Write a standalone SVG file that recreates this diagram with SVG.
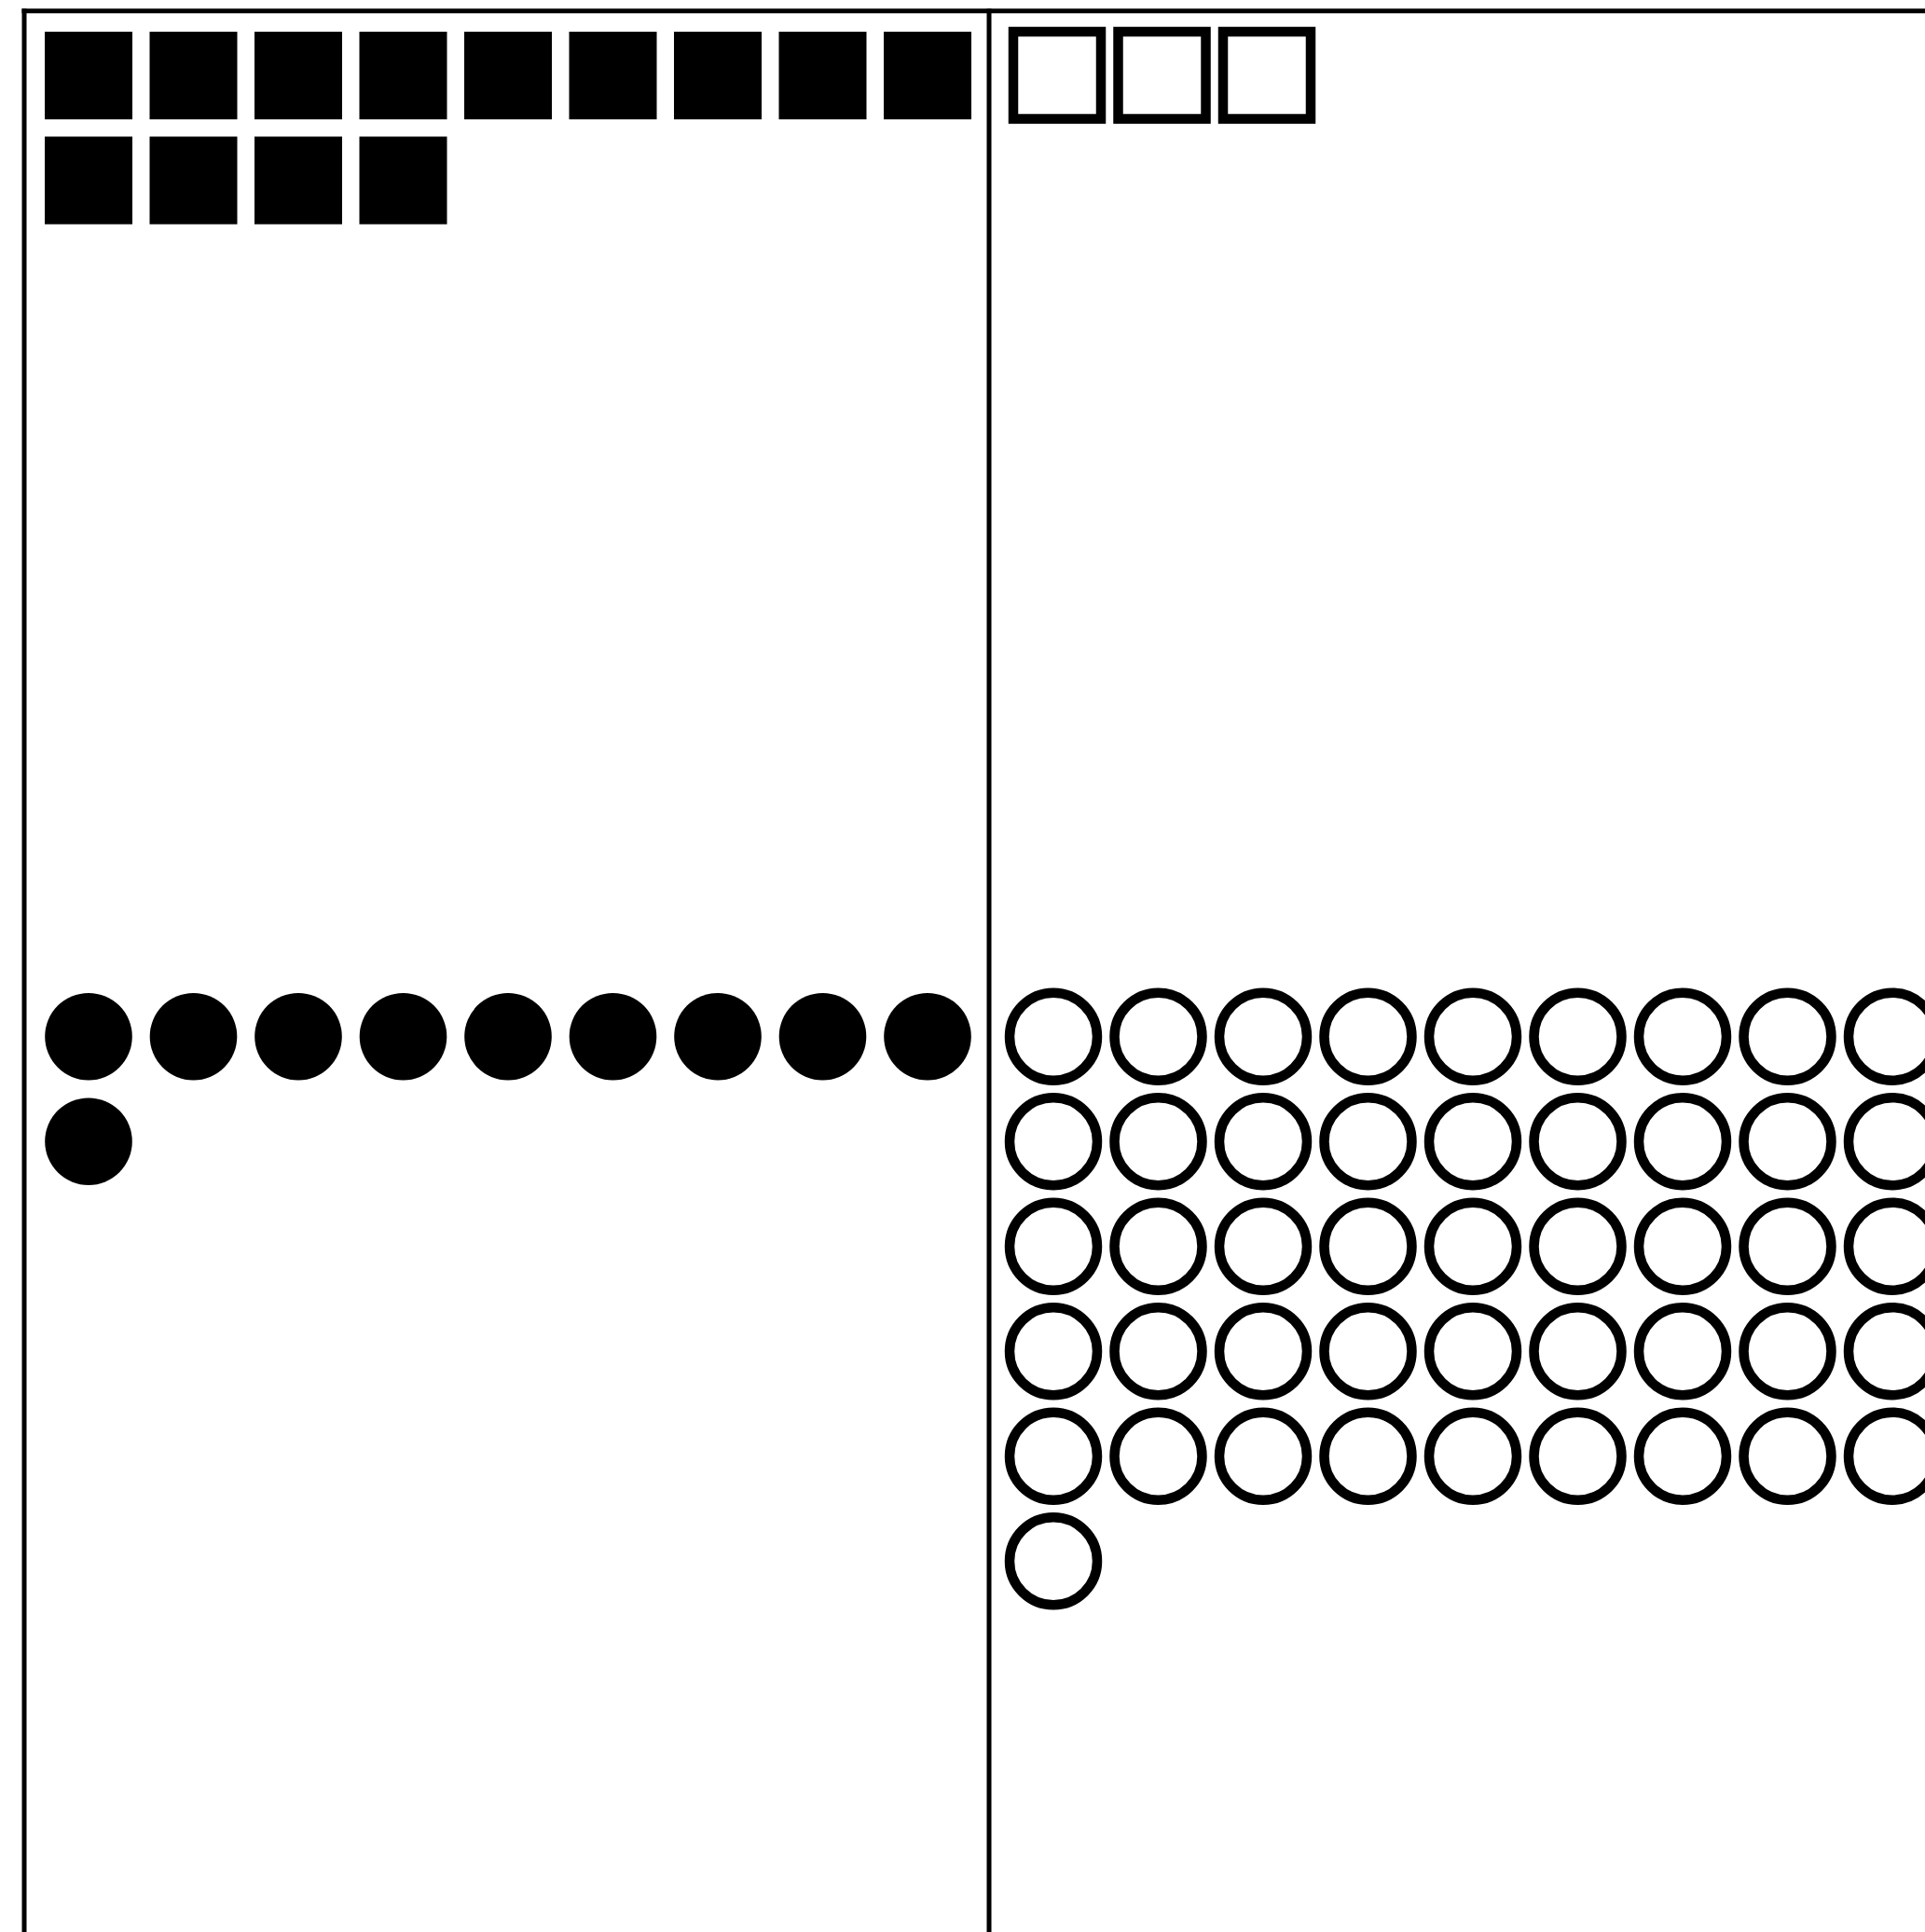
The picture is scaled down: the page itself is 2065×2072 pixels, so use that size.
<svg xmlns="http://www.w3.org/2000/svg" width="2065" height="2072" viewBox="0 0 2065 2072">
<style>
.frame{stroke:#000;stroke-width:5;fill:none}
.fsq{fill:#000}
.osq{fill:none;stroke:#000;stroke-width:10.5}
.fci{fill:#000}
.oci{fill:none;stroke:#000;stroke-width:10.5}
</style>
<rect width="2065" height="2072" fill="#fff"/>
<g id="frame">
<line class="frame" x1="23.5" y1="11.7" x2="2065" y2="11.7"/>
<line class="frame" x1="26" y1="9.2" x2="26" y2="2072"/>
<line class="frame" x1="1061" y1="9.2" x2="1061" y2="2072"/>
</g>
<g id="filled-squares">
<rect class="fsq" x="48" y="34" width="94" height="94"/>
<rect class="fsq" x="160.5" y="34" width="94" height="94"/>
<rect class="fsq" x="273" y="34" width="94" height="94"/>
<rect class="fsq" x="385.5" y="34" width="94" height="94"/>
<rect class="fsq" x="498" y="34" width="94" height="94"/>
<rect class="fsq" x="610.5" y="34" width="94" height="94"/>
<rect class="fsq" x="723" y="34" width="94" height="94"/>
<rect class="fsq" x="835.5" y="34" width="94" height="94"/>
<rect class="fsq" x="948" y="34" width="94" height="94"/>
<rect class="fsq" x="48" y="146.5" width="94" height="94"/>
<rect class="fsq" x="160.5" y="146.5" width="94" height="94"/>
<rect class="fsq" x="273" y="146.5" width="94" height="94"/>
<rect class="fsq" x="385.5" y="146.5" width="94" height="94"/>
</g>
<g id="outline-squares">
<rect class="osq" x="1087" y="34" width="94" height="93.5"/>
<rect class="osq" x="1199.5" y="34" width="94" height="93.5"/>
<rect class="osq" x="1312" y="34" width="94" height="93.5"/>
</g>
<g id="filled-circles">
<circle class="fci" cx="95" cy="1111.7" r="46.8"/>
<circle class="fci" cx="207.5" cy="1111.7" r="46.8"/>
<circle class="fci" cx="320" cy="1111.7" r="46.8"/>
<circle class="fci" cx="432.5" cy="1111.7" r="46.8"/>
<circle class="fci" cx="545" cy="1111.7" r="46.8"/>
<circle class="fci" cx="657.5" cy="1111.7" r="46.8"/>
<circle class="fci" cx="770" cy="1111.7" r="46.8"/>
<circle class="fci" cx="882.5" cy="1111.7" r="46.8"/>
<circle class="fci" cx="995" cy="1111.7" r="46.8"/>
<circle class="fci" cx="95" cy="1224.2" r="46.8"/>
</g>
<g id="outline-circles">
<circle class="oci" cx="1130" cy="1111.7" r="47"/><circle class="oci" cx="1242.5" cy="1111.7" r="47"/><circle class="oci" cx="1355" cy="1111.7" r="47"/><circle class="oci" cx="1467.5" cy="1111.7" r="47"/><circle class="oci" cx="1580" cy="1111.7" r="47"/><circle class="oci" cx="1692.5" cy="1111.7" r="47"/><circle class="oci" cx="1805" cy="1111.7" r="47"/><circle class="oci" cx="1917.5" cy="1111.7" r="47"/><circle class="oci" cx="2030" cy="1111.7" r="47"/>
<circle class="oci" cx="1130" cy="1224.2" r="47"/><circle class="oci" cx="1242.5" cy="1224.2" r="47"/><circle class="oci" cx="1355" cy="1224.2" r="47"/><circle class="oci" cx="1467.5" cy="1224.2" r="47"/><circle class="oci" cx="1580" cy="1224.2" r="47"/><circle class="oci" cx="1692.5" cy="1224.2" r="47"/><circle class="oci" cx="1805" cy="1224.2" r="47"/><circle class="oci" cx="1917.5" cy="1224.2" r="47"/><circle class="oci" cx="2030" cy="1224.2" r="47"/>
<circle class="oci" cx="1130" cy="1336.7" r="47"/><circle class="oci" cx="1242.5" cy="1336.7" r="47"/><circle class="oci" cx="1355" cy="1336.7" r="47"/><circle class="oci" cx="1467.5" cy="1336.7" r="47"/><circle class="oci" cx="1580" cy="1336.7" r="47"/><circle class="oci" cx="1692.5" cy="1336.7" r="47"/><circle class="oci" cx="1805" cy="1336.7" r="47"/><circle class="oci" cx="1917.5" cy="1336.7" r="47"/><circle class="oci" cx="2030" cy="1336.7" r="47"/>
<circle class="oci" cx="1130" cy="1449.2" r="47"/><circle class="oci" cx="1242.5" cy="1449.2" r="47"/><circle class="oci" cx="1355" cy="1449.2" r="47"/><circle class="oci" cx="1467.5" cy="1449.2" r="47"/><circle class="oci" cx="1580" cy="1449.2" r="47"/><circle class="oci" cx="1692.5" cy="1449.2" r="47"/><circle class="oci" cx="1805" cy="1449.2" r="47"/><circle class="oci" cx="1917.5" cy="1449.2" r="47"/><circle class="oci" cx="2030" cy="1449.2" r="47"/>
<circle class="oci" cx="1130" cy="1561.7" r="47"/><circle class="oci" cx="1242.5" cy="1561.7" r="47"/><circle class="oci" cx="1355" cy="1561.7" r="47"/><circle class="oci" cx="1467.5" cy="1561.7" r="47"/><circle class="oci" cx="1580" cy="1561.7" r="47"/><circle class="oci" cx="1692.5" cy="1561.7" r="47"/><circle class="oci" cx="1805" cy="1561.7" r="47"/><circle class="oci" cx="1917.5" cy="1561.7" r="47"/><circle class="oci" cx="2030" cy="1561.7" r="47"/>
<circle class="oci" cx="1130" cy="1674.2" r="47"/>
</g>
</svg>
